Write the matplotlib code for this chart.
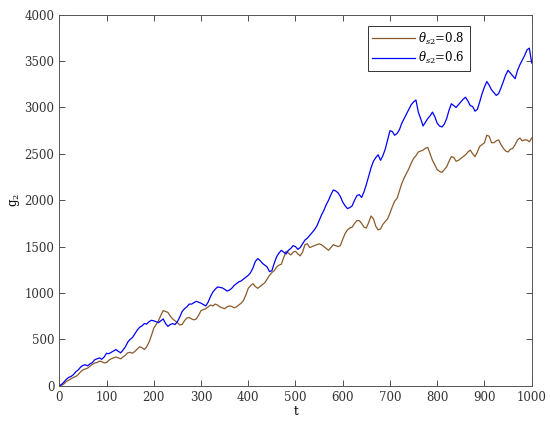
import numpy as np
import matplotlib
matplotlib.use('Agg')
import matplotlib.pyplot as plt

plt.rcParams['font.family'] = 'serif'
plt.rcParams['font.serif'] = ['DejaVu Serif']
plt.rcParams['mathtext.fontset'] = 'dejavuserif'
plt.rcParams['font.size'] = 8.5

# time axis (every 5 steps)
t = np.arange(0, 1001, 5)

# theta_s2 = 0.8 (brown)
g2_08 = [0, 5, 20, 45, 60, 75, 90, 100, 120, 150,
         170, 180, 190, 210, 230, 245, 250, 265, 260, 245,
         250, 275, 290, 300, 310, 300, 290, 310, 330, 355,
         360, 350, 370, 395, 420, 410, 390, 420, 470, 540,
         620, 660, 700, 760, 810, 800, 790, 750, 720, 700,
         680, 655, 660, 700, 730, 735, 720, 710, 720, 760,
         810, 820, 830, 850, 870, 860, 880, 870, 850, 840,
         830, 850, 860, 855, 840, 850, 870, 890, 920, 980,
         1050, 1080, 1100, 1070, 1050, 1070, 1090, 1110, 1150, 1190,
         1220, 1240, 1280, 1300, 1310, 1380, 1450, 1430, 1410, 1440,
         1450, 1420, 1400, 1440, 1520, 1530, 1490, 1500, 1510, 1520,
         1530, 1520, 1500, 1480, 1460, 1490, 1520, 1510, 1500, 1510,
         1580, 1640, 1680, 1700, 1710, 1750, 1780, 1780, 1750, 1710,
         1700, 1760, 1830, 1800, 1720, 1680, 1690, 1740, 1770, 1800,
         1860, 1930, 1990, 2020, 2100, 2180, 2240, 2290, 2340, 2400,
         2450, 2480, 2520, 2530, 2540, 2560, 2570, 2500, 2430, 2380,
         2330, 2310, 2300, 2330, 2360, 2420, 2470, 2460, 2420, 2430,
         2450, 2470, 2490, 2520, 2540, 2500, 2470, 2520, 2580, 2600,
         2620, 2700, 2690, 2620, 2620, 2640, 2650, 2600, 2560, 2530,
         2520, 2550, 2560, 2600, 2650, 2670, 2640, 2650, 2650, 2630,
         2670]

# theta_s2 = 0.6 (blue)
g2_06 = [0, 15, 40, 70, 90, 100, 120, 150, 170, 200,
         220, 225, 215, 235, 250, 280, 290, 300, 285, 310,
         350, 345, 360, 375, 390, 370, 355, 385, 420, 470,
         500, 520, 560, 600, 630, 645, 670, 665, 690, 705,
         700, 690, 680, 700, 720, 670, 640, 660, 670, 660,
         690, 740, 800, 830, 850, 880, 880, 895, 910, 900,
         890, 875, 860, 900, 960, 1010, 1040, 1065, 1060, 1055,
         1040, 1020, 1030, 1050, 1080, 1100, 1120, 1130, 1150, 1170,
         1190, 1220, 1270, 1340, 1370, 1350, 1320, 1300, 1280, 1230,
         1240, 1320, 1390, 1430, 1460, 1440, 1420, 1460, 1480, 1510,
         1500, 1470, 1490, 1530, 1570, 1590, 1620, 1650, 1680, 1720,
         1780, 1840, 1890, 1950, 2000, 2060, 2110, 2100, 2080, 2040,
         1980, 1940, 1910, 1920, 1940, 2000, 2050, 2060, 2030, 2090,
         2170, 2260, 2350, 2420, 2460, 2490, 2430, 2480, 2550, 2650,
         2750, 2740, 2700, 2720, 2760, 2830, 2880, 2930, 2980, 3030,
         3060, 3080, 2950, 2880, 2800, 2840, 2880, 2910, 2950, 2900,
         2830, 2800, 2790, 2820, 2880, 2970, 3040, 3020, 3000, 3030,
         3060, 3090, 3110, 3070, 3020, 3010, 2960, 2980, 3060, 3150,
         3220, 3280, 3240, 3190, 3160, 3130, 3150, 3210, 3280, 3350,
         3400, 3370, 3340, 3310, 3400, 3460, 3510, 3560, 3620, 3640,
         3480]

fig = plt.figure(figsize=(5.5, 4.29), dpi=100)
ax = fig.add_axes([0.1078, 0.1009, 0.8589, 0.8648])

ax.plot(t, g2_08, color='#8B5A2B', linewidth=0.9, label=r'$\theta_{s2}$=0.8')
ax.plot(t, g2_06, color='#0000FF', linewidth=0.9, label=r'$\theta_{s2}$=0.6')

ax.set_xlim(0, 1000)
ax.set_ylim(0, 4000)
ax.set_xticks(range(0, 1001, 100))
ax.set_yticks(range(0, 4001, 500))

ax.tick_params(direction='in', top=True, right=True, colors='#333333',
               labelcolor='#333333', length=4, width=0.6)
for s in ax.spines.values():
    s.set_color('#555555')
    s.set_linewidth(0.7)

ax.set_xlabel('t', labelpad=1)
ax.set_ylabel(r'$\mathrm{g}_2$', labelpad=2)

leg = ax.legend(loc='upper right', bbox_to_anchor=(0.869, 0.97),
                borderaxespad=0, fancybox=False, edgecolor='#333333',
                framealpha=1, handlelength=3.6, handletextpad=0.3,
                borderpad=0.4, labelspacing=0.3)
leg.get_frame().set_linewidth(0.7)

plt.savefig('out.png', dpi=100, facecolor='white')
